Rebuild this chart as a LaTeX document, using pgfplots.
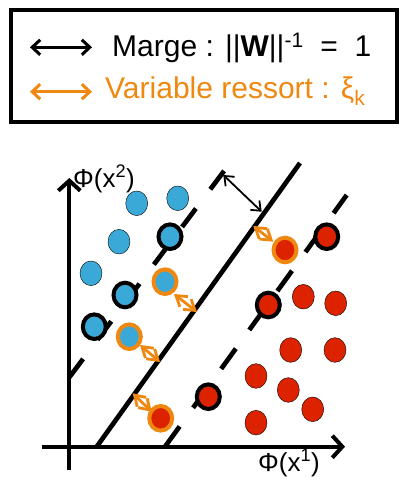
\documentclass[border=0pt]{standalone}
\usepackage{pgfplots}
\pgfplotsset{compat=1.18}
\usetikzlibrary{arrows.meta}
\usepackage{fontspec}
\setmainfont{Liberation Sans}
\definecolor{myblue}{RGB}{59,169,216}
\definecolor{myred}{RGB}{221,34,0}
\definecolor{myorange}{RGB}{239,136,17}
\begin{document}
\begin{tikzpicture}
\begin{axis}[name=ax,width=399pt,height=481pt,scale only axis,
  xmin=0,xmax=399,ymin=0,ymax=481,y dir=reverse,hide axis,clip=false]
% legend box
\draw[black,line width=4pt] (axis cs:11.3,10.3) rectangle (axis cs:397,122.3);
\addplot[black,line width=3pt,no marks,{Straight Barb[length=8pt,width=15pt]}-{Straight Barb[length=8pt,width=15pt]}] coordinates {(30,47.3) (92,47.3)};
\addplot[myorange,line width=3pt,no marks,{Straight Barb[length=8pt,width=15pt]}-{Straight Barb[length=8pt,width=15pt]}] coordinates {(30,91.7) (92,91.7)};
\node[anchor=base west,inner sep=0,font=\fontsize{30}{36}\selectfont] at (axis cs:112,57) {Marge : ||\textbf{W}||\textsuperscript{-1}\ \ =\ \ 1};
\node[anchor=base west,inner sep=0,text=myorange,font=\fontsize{30}{36}\selectfont] at (axis cs:105,98.5) {Variable ressort : ξ\textsubscript{k}};
% axes
\addplot[black,line width=4pt,no marks,-{Straight Barb[length=10pt,width=22pt]}] coordinates {(41.7,446.7) (345,446.7)};
\addplot[black,line width=4pt,no marks,-{Straight Barb[length=10pt,width=22pt]}] coordinates {(69.3,470) (69.3,178)};
\node[anchor=base west,inner sep=0,font=\fontsize{26}{30}\selectfont] at (axis cs:73,187) {Φ(x\textsuperscript{2})};
\node[anchor=base west,inner sep=0,font=\fontsize{26}{30}\selectfont] at (axis cs:258,471) {Φ(x\textsuperscript{1})};
% separating lines
\addplot[black,line width=4.7pt,no marks] coordinates {(96.7,446.7) (300,163)};
\addplot[black,line width=4.7pt,no marks,dash pattern=on 23pt off 24pt] coordinates {(69.3,377.3) (227,167)};
\addplot[black,line width=4.7pt,no marks,dash pattern=on 25pt off 23pt] coordinates {(165,446.7) (346.7,195)};
% plain points
\addplot[only marks,mark=*,mark size=11pt,mark options={draw=none,fill=myblue,yscale=1.12}] coordinates {(136.7,203.3) (177.7,198.3) (119,241.7) (91,273.3)};
\addplot[only marks,mark=*,mark size=11pt,mark options={draw=none,fill=myred,yscale=1.12}] coordinates {(303.3,296.7) (335.7,303.3) (290.7,350) (335,350) (256,376) (288.3,390) (312.7,409.3) (256,422.7)};
% support vectors
\addplot[only marks,mark=*,mark size=11.5pt,mark options={draw=black,line width=4pt,fill=myblue,yscale=1.07}] coordinates {(170,236.7) (125,295) (94.3,326.7)};
\addplot[only marks,mark=*,mark size=11.5pt,mark options={draw=myorange,line width=4pt,fill=myblue,yscale=1.07}] coordinates {(165,281.7) (129.3,336.7)};
\addplot[only marks,mark=*,mark size=11.5pt,mark options={draw=black,line width=4pt,fill=myred,yscale=1.07}] coordinates {(326.7,236.7) (268.3,305) (208.3,396.7)};
\addplot[only marks,mark=*,mark size=11.5pt,mark options={draw=myorange,line width=4pt,fill=myred,yscale=1.07}] coordinates {(285,250) (160.7,418.3)};
% slack arrows
\addplot[myorange,line width=2.8pt,no marks,{Straight Barb[length=10pt,width=13pt]}-{Straight Barb[length=10pt,width=13pt]}] coordinates {(174,294) (197,312)};
\addplot[myorange,line width=2.8pt,no marks,{Straight Barb[length=10pt,width=13pt]}-{Straight Barb[length=10pt,width=13pt]}] coordinates {(140,345) (160,362)};
\addplot[myorange,line width=2.8pt,no marks,{Straight Barb[length=10pt,width=13pt]}-{Straight Barb[length=10pt,width=13pt]}] coordinates {(132.7,393.3) (151.7,411.7)};
\addplot[myorange,line width=2.8pt,no marks,{Straight Barb[length=10pt,width=13pt]}-{Straight Barb[length=10pt,width=13pt]}] coordinates {(253.3,226) (273.3,241.7)};
% margin arrow
\addplot[black,line width=1.8pt,no marks,{Straight Barb[length=8pt,width=13pt]}-{Straight Barb[length=8pt,width=13pt]}] coordinates {(223.3,175) (261.7,211.7)};
\end{axis}
\pgfresetboundingbox
\path[use as bounding box] (ax.south west) rectangle (ax.north east);
\end{tikzpicture}
\end{document}
